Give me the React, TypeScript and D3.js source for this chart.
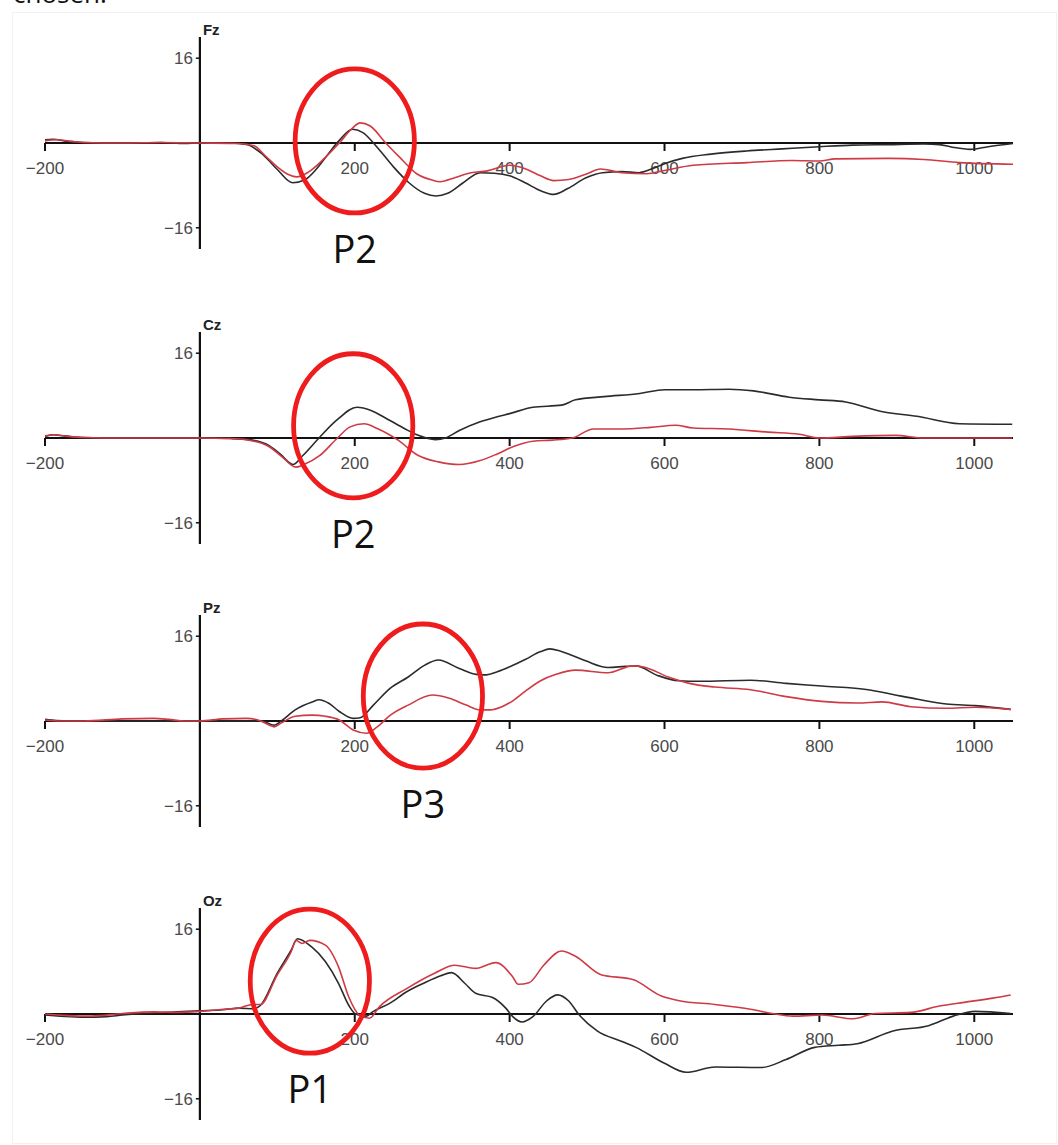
import React from "react";
import * as d3 from "d3";

// Grand-average ERP waveforms (µV) per electrode, sampled as [time ms, amplitude µV]
const channels = ["Fz", "Cz", "Pz", "Oz"];

const fzBlack: [number, number][] = [
  [-200, 0.6], [-190, 0.7], [-170, 0.3], [-150, 0.1], [-100, 0], [-50, 0.1], [-20, -0.1], [0, 0],
  [40, 0], [60, -0.3], [80, -2], [100, -5], [120, -7.5], [135, -7], [150, -5], [165, -2.2],
  [180, 0.5], [197, 2.6], [210, 2], [230, -1], [250, -4.5], [270, -7.5], [290, -9.5], [305, -10],
  [320, -9.5], [340, -7.5], [362, -5.6], [380, -5.7], [400, -6.2], [420, -7.5], [440, -9],
  [457, -9.7], [475, -8.6], [498, -6.6], [520, -5.6], [545, -5.4], [567, -5.6], [585, -4.8],
  [600, -3.9], [623, -2.9], [660, -2.1], [706, -1.5], [752, -1.1], [800, -0.7], [843, -0.4],
  [889, -0.3], [935, -0.2], [955, -0.3], [972, -0.8], [995, -1.2], [1018, -0.7], [1050, -0.1],
];
const fzRed: [number, number][] = [
  [-200, 0.4], [-185, 0.6], [-165, 0.3], [-150, 0.1], [-100, 0], [-50, 0.1], [0, 0], [50, -0.1],
  [70, -0.5], [85, -2.5], [100, -4.5], [115, -6], [125, -6.4], [140, -5.5], [160, -3], [180, 0],
  [195, 2.5], [207, 3.8], [220, 3.2], [240, 0], [260, -3], [280, -5.8], [300, -7], [310, -7.3],
  [330, -6.5], [350, -5.6], [370, -5.3], [400, -4.2], [421, -4.9], [440, -6.2], [457, -7.1],
  [476, -6.9], [500, -5.8], [517, -4.9], [545, -5.6], [577, -5.8], [600, -5.2], [637, -4.2],
  [706, -3.7], [765, -3.3], [800, -3.4], [820, -3.0], [889, -2.9], [935, -3.1], [981, -3.7],
  [1050, -4.0],
];

const czBlack: [number, number][] = [
  [-200, 0.3], [-190, 0.6], [-175, 0.4], [-150, 0.1], [-100, 0], [0, 0], [40, -0.1], [63, -0.3],
  [89, -1.4], [105, -3.2], [115, -4.6], [120, -5], [133, -3.3], [155, 0.2], [177, 3.4], [203, 5.8],
  [221, 5.2], [243, 3.5], [264, 1.8], [282, 0.5], [304, -0.3], [317, 0], [335, 1.4], [361, 3],
  [384, 4], [400, 4.6], [430, 5.8], [467, 6.2], [485, 7.2], [522, 7.8], [568, 8.4], [600, 9.1],
  [637, 9.1], [683, 9.2], [715, 8.9], [761, 7.7], [800, 7.2], [834, 6.8], [880, 5.0], [926, 4.1],
  [981, 2.7], [1049, 2.6],
];
const czRed: [number, number][] = [
  [-200, 0.4], [-188, 0.6], [-170, 0.3], [-150, 0.1], [-100, 0], [0, 0], [40, -0.1], [63, -0.4],
  [89, -1.6], [105, -3.4], [124, -5.5], [133, -5.1], [155, -3.3], [177, -0.1], [194, 2.1],
  [212, 2.7], [229, 1.8], [256, -0.4], [282, -3.3], [308, -4.5], [335, -5.0], [361, -4.3],
  [384, -3.0], [405, -1.6], [430, -0.6], [455, -0.4], [481, 0], [508, 1.7], [545, 1.7], [582, 2.0],
  [614, 2.4], [637, 1.9], [683, 1.7], [734, 1.1], [774, 0.7], [800, 0], [843, 0.3], [898, 0.5],
  [935, 0], [1049, 0],
];

const pzBlack: [number, number][] = [
  [-200, 0.3], [-185, 0.1], [-150, 0], [-100, 0], [-50, 0], [0, 0], [50, 0], [80, 0], [96, -0.8],
  [105, 0], [123, 2.1], [145, 3.6], [154, 4.0], [167, 3.3], [180, 1.8], [198, 0.5], [207, 0.6],
  [224, 3.0], [246, 6.2], [269, 8.3], [290, 10.5], [308, 11.5], [335, 9.9], [357, 8.8], [370, 8.7],
  [384, 9.3], [401, 10.3], [420, 11.6], [440, 13.1], [452, 13.6], [465, 13.2], [480, 12.4],
  [499, 11.3], [527, 10.1], [549, 10.3], [563, 10.4], [591, 8.6], [618, 7.6], [646, 7.5],
  [711, 7.7], [757, 7.1], [803, 6.6], [863, 5.9], [895, 5.0], [927, 4.1], [964, 3.2], [1001, 2.9],
  [1047, 2.2],
];
const pzRed: [number, number][] = [
  [-200, 0.2], [-180, 0], [-150, 0], [-100, 0.4], [-60, 0.5], [-40, 0.3], [-20, 0], [0, 0],
  [30, 0.4], [60, 0.5], [75, 0.2], [90, -0.8], [96, -1.1], [105, -0.4], [123, 0.9], [145, 1.1],
  [162, 0.9], [180, 0.2], [198, -1.7], [215, -2.3], [229, -1.1], [246, 1.1], [269, 3.0],
  [300, 4.9], [322, 4.3], [344, 3.0], [362, 2.1], [375, 2.1], [390, 2.7], [405, 3.9], [420, 5.6],
  [440, 7.6], [460, 8.8], [485, 9.6], [527, 9.1], [559, 10.4], [573, 10.2], [605, 8.3], [632, 7.1],
  [665, 6.4], [711, 5.9], [757, 4.6], [803, 3.7], [849, 3.4], [881, 3.6], [918, 2.7], [964, 2.4],
  [1001, 2.6], [1047, 2.2],
];

const ozBlack: [number, number][] = [
  [-200, -0.2], [-180, -0.4], [-150, -0.6], [-120, -0.5], [-100, -0.2], [-60, 0.2], [-30, 0.4],
  [0, 0.6], [30, 0.8], [50, 1.1], [70, 1.0], [78, 1.6], [100, 7.7], [118, 12.1], [126, 14.2],
  [144, 12.7], [162, 9.9], [179, 5.8], [192, 1.7], [201, 0], [215, -0.4], [223, 0.4], [245, 2.0],
  [267, 4.2], [289, 5.8], [311, 7.2], [325, 7.8], [342, 5.8], [356, 3.9], [378, 3.1], [395, 1.1],
  [404, -0.5], [416, -1.5], [430, -0.5], [448, 2.5], [462, 3.6], [476, 2.5], [490, -0.2],
  [513, -3.2], [545, -5.2], [563, -6.3], [600, -9.3], [628, -11.0], [665, -10.0], [725, -10.1],
  [757, -8.6], [794, -6.3], [825, -5.9], [849, -5.6], [895, -3.2], [941, -2.2], [973, -0.4],
  [1001, 0.5], [1047, 0.1],
];
const ozRed: [number, number][] = [
  [-200, 0], [-170, -0.3], [-140, -0.4], [-100, 0.1], [-60, 0.4], [-30, 0.3], [0, 0.5], [30, 0.9],
  [50, 1.1], [68, 1.8], [78, 1.8], [100, 7.4], [118, 11.8], [124, 13.9], [132, 13.3], [142, 13.9],
  [162, 13.0], [179, 8.9], [192, 3.3], [206, -0.2], [219, -0.8], [232, 1.4], [267, 4.8], [303, 7.7],
  [329, 9.2], [356, 8.6], [382, 9.7], [404, 7.0], [411, 5.6], [425, 5.9], [444, 9.2], [467, 11.9],
  [485, 10.9], [518, 7.4], [559, 6.5], [596, 3.4], [619, 2.5], [665, 1.8], [711, 0.9], [739, 0.1],
  [766, -0.4], [803, -0.2], [844, -0.9], [872, 0.1], [918, 0.3], [955, 1.5], [987, 2.2],
  [1024, 3.0], [1047, 3.6],
];

const blackSeries = [fzBlack, czBlack, pzBlack, ozBlack];
const redSeries = [fzRed, czRed, pzRed, ozRed];

// Axis ticks
const xTicks = [-200, 200, 400, 600, 800, 1000];
const yTicks = [16, -16];

// Highlighted components: label, centre time (ms), centre amplitude (µV)
const peakLabels = ["P2", "P2", "P3", "P1"];
const peakTimes = [200, 198, 288, 142];
const peakAmps = [0.4, 2.3, 4.7, 6.2];

const W = 1058;
const H = 1145;
const ZERO_Y = [143, 438, 721, 1014];
const HALF_H = 106; // pixel half-height of each panel's y range (±20 µV)

const x = d3.scaleLinear().domain([-200, 1050]).range([45, 1013]);
const fmt = (v: number) => d3.format("d")(v).replace("-", "\u2212");

function Panel({ idx }: { idx: number }) {
  const zy = ZERO_Y[idx];
  const y = d3.scaleLinear().domain([-20, 20]).range([zy + HALF_H, zy - HALF_H]);
  const line = d3
    .line<[number, number]>()
    .x((d) => x(d[0]))
    .y((d) => y(d[1]))
    .curve(d3.curveMonotoneX);
  const x0 = x(0);
  const cx = x(peakTimes[idx]);
  const cy = y(peakAmps[idx]);
  const rx = x(peakTimes[idx] + 77) - cx;
  const ry = cy - y(peakAmps[idx] + 13.6);
  const font = "'Liberation Sans', Arial, sans-serif";
  return (
    <g>
      {/* x axis */}
      <line x1={x(-200)} x2={x(1050)} y1={y(0)} y2={y(0)} stroke="#111" strokeWidth={2.2} />
      {xTicks.map((t) => (
        <g key={t}>
          <line x1={x(t)} x2={x(t)} y1={y(0)} y2={y(0) + 8} stroke="#111" strokeWidth={2} />
          <text x={x(t)} y={y(0) + 31} textAnchor="middle" fontFamily={font} fontSize={17} fill="#4a4a4a">
            {fmt(t)}
          </text>
        </g>
      ))}
      {/* y axis */}
      <line x1={x0} x2={x0} y1={y(20)} y2={y(-20)} stroke="#111" strokeWidth={2.2} />
      {yTicks.map((v) => (
        <g key={v}>
          <line x1={x0 - 4} x2={x0} y1={y(v)} y2={y(v)} stroke="#111" strokeWidth={1.5} />
          <text x={x0 - 7} y={y(v) + 6} textAnchor="end" fontFamily={font} fontSize={17} fill="#4a4a4a">
            {fmt(v)}
          </text>
        </g>
      ))}
      <text x={x0 + 3} y={y(20) - 2} fontFamily={font} fontWeight="bold" fontSize={15} fill="#222">
        {channels[idx]}
      </text>
      {/* waveforms */}
      <path d={line(blackSeries[idx]) ?? ""} fill="none" stroke="#2b2b2b" strokeWidth={1.6} />
      <path d={line(redSeries[idx]) ?? ""} fill="none" stroke="#cf3a44" strokeWidth={1.6} />
      {/* highlighted component */}
      <ellipse cx={cx} cy={cy} rx={rx} ry={ry} fill="none" stroke="#ee1c1c" strokeWidth={4.8} />
      <text
        x={cx}
        y={cy + ry + 50}
        textAnchor="middle"
        fontFamily="'Open Sans', 'Noto Sans', sans-serif"
        fontSize={38}
        fill="#111"
      >
        {peakLabels[idx]}
      </text>
    </g>
  );
}

export default function App() {
  return (
    <svg
      width={W}
      height={H}
      viewBox={`0 0 ${W} ${H}`}
      style={{ position: "absolute", left: 0, top: 0, display: "block", background: "#fff" }}
    >
      <rect x={0} y={0} width={W} height={H} fill="#fff" />
      <rect x={12.5} y={12.5} width={W - 14} height={H - 14} fill="none" stroke="#f2f2f2" strokeWidth={1} />
      <text x={13} y={3} fontFamily="'Open Sans', sans-serif" fontSize={26} fill="#111">
        chosen.
      </text>
      {channels.map((c, i) => (
        <Panel key={c} idx={i} />
      ))}
    </svg>
  );
}
